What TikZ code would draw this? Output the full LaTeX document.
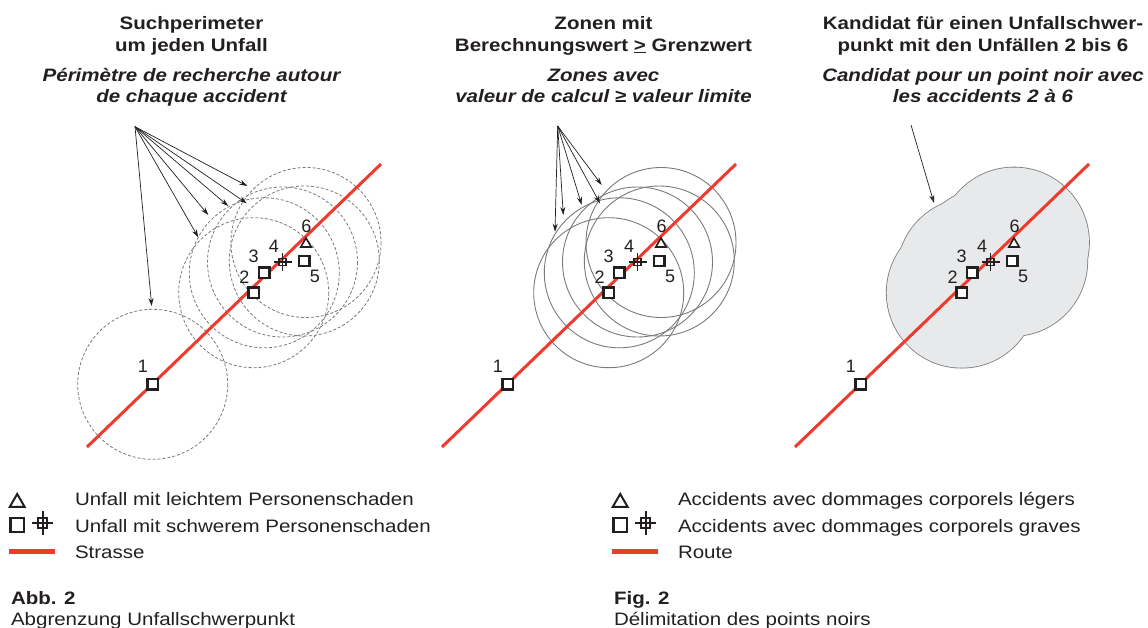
\documentclass[tikz,border=0pt]{standalone}
\usepackage{fontspec}
\setmainfont{Liberation Sans}[FakeStretch=1.14]
\newfontfamily\numfont{Liberation Sans}
\usetikzlibrary{shapes.geometric,arrows.meta}
\definecolor{road}{HTML}{EE3B2E}
\definecolor{txt}{HTML}{231F20}
\definecolor{zone}{HTML}{E8E9EA}
\definecolor{ring}{HTML}{7A7A7A}

\newcommand\markers[1]{%
  \node[sq] (#1p1) at (#1c1) {};
  \node[sq] (#1p2) at (#1c2) {};
  \node[sq] (#1p3) at (#1c3) {};
  \node[crs] (#1p4) at (#1c4) {};
  \draw[crsarm] ([xshift=-5.5pt]#1p4.west) -- ([xshift=5.5pt]#1p4.east);
  \draw[crsarm] ([yshift=5.5pt]#1p4.north) -- ([yshift=-5.5pt]#1p4.south);
  \node[sq] (#1p5) at (#1c5) {};
  \node[tri] (#1p6) at (306,244) {};
  \node[num] (#1l1) at (142.8,366.7) {1};
  \node[num] (#1l2) at (244.5,277) {2};
  \node[num] (#1l3) at (253.7,256) {3};
  \node[num] (#1l4) at (274,246) {4};
  \node[num] (#1l5) at (315,276.7) {5};
  \node[num] (#1l6) at (306.5,226) {6};
}
\newcommand\centres[1]{%
  \coordinate (#1c1) at (152.7,384.3);
  \coordinate (#1c2) at (253.7,292.7);
  \coordinate (#1c3) at (264.3,272.8);
  \coordinate (#1c4) at (282.5,262);
  \coordinate (#1c5) at (304.3,261);
  \coordinate (#1c6) at (306,242.5);
  \coordinate (#1ra) at (87,447);
  \coordinate (#1rb) at (381,164);
}

\begin{document}
\begin{tikzpicture}[x=1pt,y=-1pt,
  every node/.style={inner sep=0pt, outer sep=0pt, text=txt},
  title/.style={anchor=base, font=\fontsize{18}{22}\selectfont\bfseries},
  ititle/.style={anchor=base, font=\fontsize{18}{22}\selectfont\bfseries\itshape},
  legtext/.style={anchor=base west, font=\fontsize{18}{22}\selectfont},
  captitle/.style={anchor=base west, font=\fontsize{18}{22}\selectfont\bfseries},
  num/.style={font=\numfont\fontsize{18}{20}\selectfont},
  sq/.style={draw=txt, fill=white, line width=2.2pt, rectangle, minimum size=10.5pt},
  bigsq/.style={draw=txt, fill=white, line width=2.2pt, rectangle, minimum size=13.5pt},
  tri/.style={draw=txt, fill=white, line width=1.6pt, regular polygon, regular polygon sides=3, minimum size=12pt},
  bigtri/.style={draw=txt, fill=white, line width=2pt, regular polygon, regular polygon sides=3, minimum size=17pt},
  crs/.style={draw=txt, line width=1.8pt, rectangle, minimum size=7pt},
  bigcrs/.style={draw=txt, line width=2pt, rectangle, minimum size=9.5pt},
  crsarm/.style={draw=txt, line width=1.8pt},
  roadline/.style={draw=road, line width=3pt},
  legroad/.style={draw=road, line width=4.5pt},
  dring/.style={draw=ring, dash pattern=on 3pt off 2pt, line width=0.8pt},
  sring/.style={draw=ring, line width=0.9pt},
  arr/.style={-{Stealth[length=8pt,width=5pt]}, line width=0.7pt, draw=txt},
]
\useasboundingbox (0,0) rectangle (1148,627);

% ---------- titles ----------
\node[title]  (t1a) at (191.5,29.3) {Suchperimeter};
\node[title]  (t1b) at (191.5,51) {um jeden Unfall};
\node[ititle] (t1c) at (191.5,81.7) {Périmètre de recherche autour};
\node[ititle] (t1d) at (191.5,102.7) {de chaque accident};

\node[title]  (t2a) at (603.5,29.3) {Zonen mit};
\node[title]  (t2b) at (603.5,51) {Berechnungswert \underline{>} Grenzwert};
\node[ititle] (t2c) at (603.5,81.7) {Zones avec};
\node[ititle] (t2d) at (603.5,102.7) {valeur de calcul ≥ valeur limite};

\node[title]  (t3a) at (983,29.3) {Kandidat für einen Unfallschwer-};
\node[title]  (t3b) at (983,51) {punkt mit den Unfällen 2 bis 6};
\node[ititle] (t3c) at (983,81.7) {Candidat pour un point noir avec};
\node[ititle] (t3d) at (983,102.7) {les accidents 2 à 6};

% ---------- panel 1 ----------
\centres{A}
\foreach \i in {1,...,6} \draw[dring] (Ac\i) circle[radius=75];
\draw[roadline] (Ara) -- (Arb);
\markers{A}
\coordinate (As) at (135,126.7);
\coordinate (Ae1) at (151.7,306);
\coordinate (Ae2) at (198.3,237.3);
\coordinate (Ae3) at (208.3,215);
\coordinate (Ae4) at (228.3,206);
\coordinate (Ae5) at (246.7,203.3);
\coordinate (Ae6) at (247.3,186);
\foreach \i in {1,...,6} \draw[arr] (As) -- (Ae\i);

% ---------- panel 2 ----------
\begin{scope}[xshift=355pt]
\centres{B}
\foreach \i in {2,...,6} \draw[sring] (Bc\i) circle[radius=75];
\draw[roadline] (Bra) -- (Brb);
\markers{B}
\coordinate (Bs) at (202.7,126);
\coordinate (Be2) at (200,231.7);
\coordinate (Be3) at (208.3,215);
\coordinate (Be4) at (226.7,205);
\coordinate (Be5) at (245,203.3);
\coordinate (Be6) at (246.7,185);
\foreach \i in {2,...,6} \draw[arr] (Bs) -- (Be\i);
\end{scope}

% ---------- panel 3 ----------
\begin{scope}[xshift=708pt]
\centres{C}
\foreach \i in {2,...,6} \draw[draw=ring, line width=1.6pt] (Cc\i) circle[radius=75];
\foreach \i in {2,...,6} \fill[zone] (Cc\i) circle[radius=75];
\draw[roadline] (Cra) -- (Crb);
\markers{C}
\coordinate (Cs) at (203,125);
\coordinate (Ce) at (226,203);
\draw[arr] (Cs) -- (Ce);
\end{scope}

% ---------- legends ----------
\foreach \pre/\dx/\la/\lb/\lc/\ca/\cb in {
  L/0/{Unfall mit leichtem Personenschaden}/{Unfall mit schwerem Personenschaden}/{Strasse}/{Abb. 2}/{Abgrenzung Unfallschwerpunkt},
  R/603/{Accidents avec dommages corporels légers}/{Accidents avec dommages corporels graves}/{Route}/{Fig. 2}/{Délimitation des points noirs}}{
  \begin{scope}[xshift=\dx pt]
  \node[bigtri] (\pre tri) at (17.2,502.5) {};
  \node[bigsq] (\pre sq) at (17.2,525) {};
  \node[bigcrs] (\pre crs) at (42.5,523) {};
  \draw[crsarm, line width=2pt] ([xshift=-6pt]\pre crs.west) -- ([xshift=6pt]\pre crs.east);
  \draw[crsarm, line width=2pt] ([yshift=7pt]\pre crs.north) -- ([yshift=-7pt]\pre crs.south);
  \coordinate (\pre ra) at (9.3,551.7);
  \coordinate (\pre rb) at (55,551.7);
  \draw[legroad] (\pre ra) -- (\pre rb);
  \node[legtext] (\pre ta) at (75,505) {\la};
  \node[legtext] (\pre tb) at (75,532.7) {\lb};
  \node[legtext] (\pre tc) at (75,558.3) {\lc};
  \node[captitle] (\pre ca) at (11,604) {\ca};
  \node[legtext] (\pre cb) at (11,625) {\cb};
  \end{scope}
}
\end{tikzpicture}
\end{document}
